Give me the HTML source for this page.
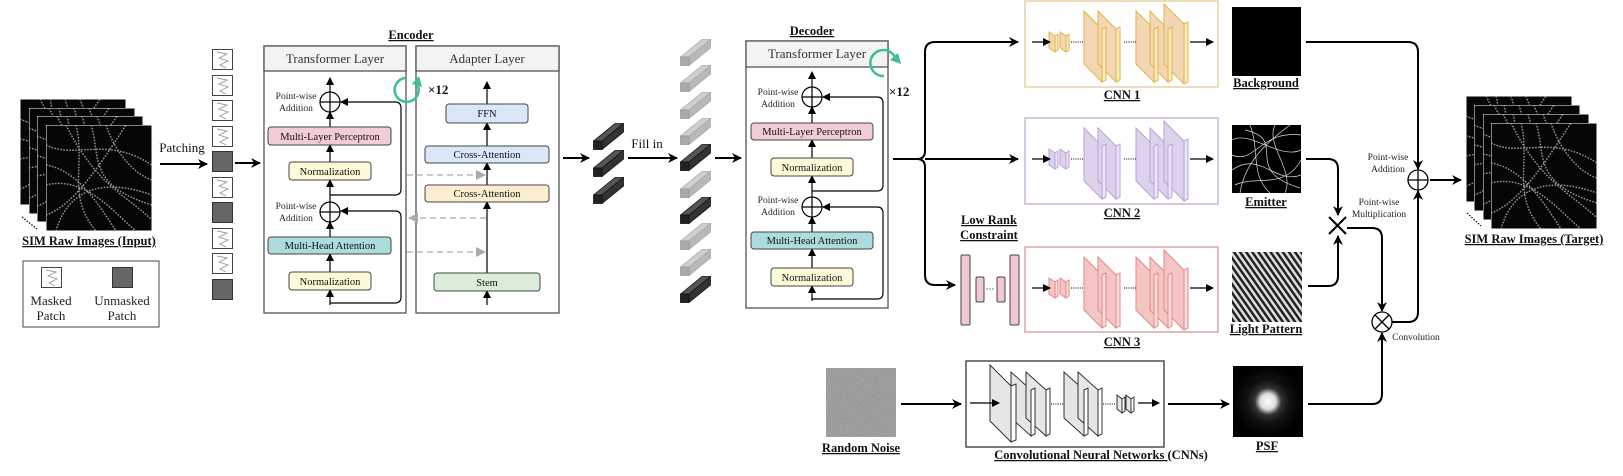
<!DOCTYPE html>
<html><head><meta charset="utf-8"><style>
html,body{margin:0;padding:0;background:#fff;}
svg{display:block;font-family:"Liberation Serif",serif;}
.h{font-size:13px;fill:#333;}
.b{font-size:10.5px;fill:#111;}
.pw{font-size:9.5px;fill:#222;}
.lab{font-size:12.5px;font-weight:bold;text-decoration:underline;fill:#111;}
</style></head><body>
<svg width="1623" height="476" viewBox="0 0 1623 476" xmlns="http://www.w3.org/2000/svg">
<defs>
<marker id="a" markerWidth="10" markerHeight="10" refX="9" refY="5" orient="auto" markerUnits="userSpaceOnUse"><path d="M0,0 L10,5 L0,10 L3,5 z" fill="#000"/></marker>
<marker id="s" markerWidth="8" markerHeight="8" refX="7" refY="4" orient="auto" markerUnits="userSpaceOnUse"><path d="M0,0 L8,4 L0,8 z" fill="#000"/></marker>
<marker id="g" markerWidth="10" markerHeight="10" refX="9" refY="5" orient="auto" markerUnits="userSpaceOnUse"><path d="M0,0 L10,5 L0,10 z" fill="#aaa"/></marker>
<pattern id="st" width="5" height="5" patternUnits="userSpaceOnUse" patternTransform="rotate(-35)"><rect width="5" height="5" fill="#ddd"/><rect width="2.5" height="5" fill="#222"/></pattern>
<radialGradient id="psf"><stop offset="0" stop-color="#fff"/><stop offset="0.22" stop-color="#ddd"/><stop offset="0.38" stop-color="#333"/><stop offset="0.6" stop-color="#111"/><stop offset="1" stop-color="#000"/></radialGradient>
<filter id="nz" x="0" y="0" width="100%" height="100%"><feTurbulence type="fractalNoise" baseFrequency="0.9" numOctaves="1" result="t"/><feColorMatrix type="matrix" values="0.33 0.33 0.33 0 0 0.33 0.33 0.33 0 0 0.33 0.33 0.33 0 0 0 0 0 0 1"/></filter>
<symbol id="sim" viewBox="0 0 106 106">
<rect width="106" height="106" fill="#060606" stroke="#fff" stroke-width="1"/>
<g fill="none" stroke="#9a9a9a" stroke-width="1.4" stroke-dasharray="1.6 1.4">
<path d="M0,20 C30,35 60,10 106,40"/><path d="M10,106 C20,70 50,50 106,70"/><path d="M0,60 C40,50 70,90 90,106"/><path d="M30,0 C40,40 20,70 50,106"/><path d="M60,0 C70,30 90,50 106,55"/><path d="M0,90 C30,80 60,30 80,0"/><path d="M20,0 C50,60 80,70 106,95"/><path d="M0,40 C30,45 50,75 70,106"/><path d="M45,0 C55,30 40,60 106,80"/>
</g></symbol>
<symbol id="bk" viewBox="0 0 31 27"><path d="M0.5,18 L22,0.5 L30.5,0.5 L9,18 z" fill="#555" stroke="#111" stroke-width=".8"/><path d="M9,18 L30.5,0.5 L30.5,9 L9,26.5 z" fill="#333" stroke="#111" stroke-width=".8"/><rect x="0.5" y="18" width="8.5" height="8.5" fill="#222" stroke="#111" stroke-width=".8"/></symbol>
<symbol id="gy" viewBox="0 0 31 27"><path d="M0.5,18 L22,0.5 L30.5,0.5 L9,18 z" fill="#cfcfcf" stroke="#aaa" stroke-width=".8"/><path d="M9,18 L30.5,0.5 L30.5,9 L9,26.5 z" fill="#b8b8b8" stroke="#aaa" stroke-width=".8"/><rect x="0.5" y="18" width="8.5" height="8.5" fill="#aaa" stroke="#999" stroke-width=".8"/></symbol>
<symbol id="mp" viewBox="0 0 21 21"><rect x=".5" y=".5" width="20" height="20" fill="#fff" stroke="#444"/><path d="M5,3 L15,5 L7,9 L16,12 L8,16 L14,19" fill="none" stroke="#999" stroke-width=".9"/></symbol>
<symbol id="up" viewBox="0 0 21 21"><rect x=".5" y=".5" width="20" height="20" fill="#666" stroke="#333"/></symbol>
</defs>

<!-- input stack -->
<use href="#sim" x="20" y="99" width="106" height="106"/>
<use href="#sim" x="29" y="108" width="106" height="106"/>
<use href="#sim" x="37" y="116" width="106" height="106"/>
<use href="#sim" x="46" y="125" width="106" height="106"/>
<path d="M22,217 L37,229" stroke="#000" stroke-width="1.2" stroke-dasharray="1.5 1.5"/>
<text x="89" y="245" class="lab" text-anchor="middle">SIM Raw Images (Input)</text>
<rect x="23" y="261" width="136" height="66" fill="#fff" stroke="#444"/>
<use href="#mp" x="41" y="267" width="21" height="21"/>
<use href="#up" x="112" y="267" width="21" height="21"/>
<text x="51" y="305" class="h" text-anchor="middle" style="fill:#222">Masked</text>
<text x="51" y="320" class="h" text-anchor="middle" style="fill:#222">Patch</text>
<text x="122" y="305" class="h" text-anchor="middle" style="fill:#222">Unmasked</text>
<text x="122" y="320" class="h" text-anchor="middle" style="fill:#222">Patch</text>

<text x="182" y="152" class="h" text-anchor="middle" style="fill:#111">Patching</text>
<line x1="160" y1="164" x2="207" y2="164" stroke="#000" stroke-width="2" marker-end="url(#a)"/>
<use href="#mp" x="212" y="49" width="21" height="21"/>
<use href="#mp" x="212" y="75" width="21" height="21"/>
<use href="#mp" x="212" y="100" width="21" height="21"/>
<use href="#mp" x="212" y="126" width="21" height="21"/>
<use href="#up" x="212" y="151" width="21" height="21"/>
<use href="#mp" x="212" y="177" width="21" height="21"/>
<use href="#up" x="212" y="202" width="21" height="21"/>
<use href="#mp" x="212" y="228" width="21" height="21"/>
<use href="#mp" x="212" y="253" width="21" height="21"/>
<use href="#up" x="212" y="279" width="21" height="21"/>
<line x1="235" y1="163" x2="260" y2="163" stroke="#000" stroke-width="2" marker-end="url(#a)"/>

<!-- Encoder -->
<text x="411" y="39" class="lab" text-anchor="middle">Encoder</text>
<rect x="264" y="46" width="142" height="267" fill="#fff" stroke="#555" stroke-width="1.3"/>
<rect x="264" y="46" width="142" height="25" fill="#f3f3f3" stroke="#555" stroke-width="1.3"/>
<text x="335" y="63" class="h" text-anchor="middle">Transformer Layer</text>
<rect x="416" y="46" width="143" height="267" fill="#fff" stroke="#555" stroke-width="1.3"/>
<rect x="416" y="46" width="143" height="25" fill="#f3f3f3" stroke="#555" stroke-width="1.3"/>
<text x="487" y="63" class="h" text-anchor="middle">Adapter Layer</text>
<g stroke="#000" stroke-width="1.2" fill="none">
<line x1="330" y1="305" x2="330" y2="290" marker-end="url(#s)"/>
<line x1="330" y1="272" x2="330" y2="254" marker-end="url(#s)"/>
<line x1="330" y1="237" x2="330" y2="222" marker-end="url(#s)"/>
<line x1="330" y1="202" x2="330" y2="180" marker-end="url(#s)"/>
<line x1="330" y1="162" x2="330" y2="145" marker-end="url(#s)"/>
<line x1="330" y1="127" x2="330" y2="112" marker-end="url(#s)"/>
<line x1="330" y1="92" x2="330" y2="78" marker-end="url(#s)"/>
<path d="M330,195 H395 Q401,195 401,189 V108 Q401,102 395,102 H341" marker-end="url(#s)"/>
<path d="M330,303 H395 Q401,303 401,297 V217 Q401,211 395,211 H341" marker-end="url(#s)"/>
<circle cx="330" cy="102" r="10" fill="#fff"/><path d="M320,102 H340 M330,92 V112"/>
<circle cx="330" cy="212" r="10" fill="#fff"/><path d="M320,212 H340 M330,202 V222"/>
</g>
<text x="296" y="99" class="pw" text-anchor="middle">Point-wise</text>
<text x="296" y="111" class="pw" text-anchor="middle">Addition</text>
<text x="296" y="209" class="pw" text-anchor="middle">Point-wise</text>
<text x="296" y="221" class="pw" text-anchor="middle">Addition</text>
<rect x="268" y="127" width="123" height="18" rx="3" fill="#f2cdd6" stroke="#444"/>
<text x="330" y="140" class="b" text-anchor="middle">Multi-Layer Perceptron</text>
<rect x="289" y="162" width="82" height="18" rx="3" fill="#fdf9d9" stroke="#444"/>
<text x="330" y="175" class="b" text-anchor="middle">Normalization</text>
<rect x="268" y="237" width="123" height="17" rx="3" fill="#acdcdb" stroke="#444"/>
<text x="330" y="249" class="b" text-anchor="middle">Multi-Head Attention</text>
<rect x="289" y="272" width="82" height="18" rx="3" fill="#fdf9d9" stroke="#444"/>
<text x="330" y="285" class="b" text-anchor="middle">Normalization</text>
<!-- adapter -->
<g stroke="#000" stroke-width="1.2" fill="none">
<line x1="487" y1="305" x2="487" y2="291" marker-end="url(#s)"/>
<line x1="487" y1="273" x2="487" y2="202" marker-end="url(#s)"/>
<line x1="487" y1="185" x2="487" y2="163" marker-end="url(#s)"/>
<line x1="487" y1="146" x2="487" y2="123" marker-end="url(#s)"/>
<line x1="487" y1="104" x2="487" y2="82" marker-end="url(#s)"/>
</g>
<rect x="446" y="104" width="82" height="19" rx="3" fill="#d9e7f9" stroke="#444"/>
<text x="487" y="117" class="b" text-anchor="middle">FFN</text>
<rect x="425" y="146" width="124" height="17" rx="3" fill="#d9e7f9" stroke="#444"/>
<text x="487" y="158" class="b" text-anchor="middle">Cross-Attention</text>
<rect x="425" y="185" width="124" height="17" rx="3" fill="#fcefcf" stroke="#444"/>
<text x="487" y="197" class="b" text-anchor="middle">Cross-Attention</text>
<rect x="434" y="273" width="106" height="18" rx="3" fill="#d9edd9" stroke="#444"/>
<text x="487" y="286" class="b" text-anchor="middle">Stem</text>
<g stroke="#aaa" stroke-width="1.2" stroke-dasharray="6 4" fill="none">
<line x1="407" y1="175" x2="485" y2="175" marker-end="url(#g)"/>
<line x1="486" y1="218" x2="409" y2="218" marker-end="url(#g)"/>
<line x1="407" y1="252" x2="485" y2="252" marker-end="url(#g)"/>
</g>
<path d="M418,86 A12,12 0 1 1 405,78" fill="none" stroke="#3cc08c" stroke-width="2.5"/>
<path d="M412,84 L419,76 L422,87 z" fill="#3cc08c"/>
<text x="428" y="94" style="font-size:13px;font-weight:bold;fill:#111">×12</text>

<!-- to bars -->
<line x1="563" y1="158" x2="589" y2="158" stroke="#000" stroke-width="2" marker-end="url(#a)"/>
<use href="#bk" x="593" y="123" width="31" height="27"/>
<use href="#bk" x="593" y="150" width="31" height="27"/>
<use href="#bk" x="593" y="177" width="31" height="27"/>
<text x="647" y="148" class="h" text-anchor="middle" style="fill:#111">Fill in</text>
<line x1="628" y1="158" x2="677" y2="158" stroke="#000" stroke-width="2" marker-end="url(#a)"/>
<use href="#gy" x="680" y="39" width="31" height="27"/>
<use href="#gy" x="680" y="65" width="31" height="27"/>
<use href="#gy" x="680" y="92" width="31" height="27"/>
<use href="#gy" x="680" y="118" width="31" height="27"/>
<use href="#bk" x="680" y="144" width="31" height="27"/>
<use href="#gy" x="680" y="171" width="31" height="27"/>
<use href="#bk" x="680" y="197" width="31" height="27"/>
<use href="#gy" x="680" y="223" width="31" height="27"/>
<use href="#gy" x="680" y="249" width="31" height="27"/>
<use href="#bk" x="680" y="276" width="31" height="27"/>
<line x1="715" y1="158" x2="741" y2="158" stroke="#000" stroke-width="2" marker-end="url(#a)"/>

<!-- Decoder -->
<text x="812" y="35" class="lab" text-anchor="middle">Decoder</text>
<rect x="746" y="41" width="142" height="267" fill="#fff" stroke="#555" stroke-width="1.3"/>
<rect x="746" y="41" width="142" height="26" fill="#f3f3f3" stroke="#555" stroke-width="1.3"/>
<text x="817" y="58" class="h" text-anchor="middle">Transformer Layer</text>
<g stroke="#000" stroke-width="1.2" fill="none">
<line x1="812" y1="301" x2="812" y2="286" marker-end="url(#s)"/>
<line x1="812" y1="268" x2="812" y2="249" marker-end="url(#s)"/>
<line x1="812" y1="232" x2="812" y2="217" marker-end="url(#s)"/>
<line x1="812" y1="197" x2="812" y2="176" marker-end="url(#s)"/>
<line x1="812" y1="158" x2="812" y2="140" marker-end="url(#s)"/>
<line x1="812" y1="123" x2="812" y2="107" marker-end="url(#s)"/>
<line x1="812" y1="87" x2="812" y2="72" marker-end="url(#s)"/>
<path d="M812,191 H877 Q883,191 883,185 V103 Q883,97 877,97 H823" marker-end="url(#s)"/>
<path d="M812,299 H877 Q883,299 883,293 V213 Q883,207 877,207 H823" marker-end="url(#s)"/>
<circle cx="812" cy="97" r="10" fill="#fff"/><path d="M802,97 H822 M812,87 V107"/>
<circle cx="812" cy="207" r="10" fill="#fff"/><path d="M802,207 H822 M812,197 V217"/>
</g>
<text x="778" y="95" class="pw" text-anchor="middle">Point-wise</text>
<text x="778" y="107" class="pw" text-anchor="middle">Addition</text>
<text x="778" y="203" class="pw" text-anchor="middle">Point-wise</text>
<text x="778" y="215" class="pw" text-anchor="middle">Addition</text>
<rect x="751" y="123" width="122" height="17" rx="3" fill="#f2cdd6" stroke="#444"/>
<text x="812" y="135" class="b" text-anchor="middle">Multi-Layer Perceptron</text>
<rect x="771" y="158" width="82" height="18" rx="3" fill="#fdf9d9" stroke="#444"/>
<text x="812" y="171" class="b" text-anchor="middle">Normalization</text>
<rect x="751" y="232" width="122" height="17" rx="3" fill="#acdcdb" stroke="#444"/>
<text x="812" y="244" class="b" text-anchor="middle">Multi-Head Attention</text>
<rect x="771" y="268" width="82" height="18" rx="3" fill="#fdf9d9" stroke="#444"/>
<text x="812" y="281" class="b" text-anchor="middle">Normalization</text>
<path d="M884,76 A13,13 0 1 1 896,60" fill="none" stroke="#3cc08c" stroke-width="2.5"/>
<path d="M890,60 L898,53 L901,64 z" fill="#3cc08c"/>
<text x="889" y="96" style="font-size:13px;font-weight:bold;fill:#111">×12</text>

<!-- brace -->
<g stroke="#000" stroke-width="2" fill="none">
<path d="M893,159 H917 Q925,159 925,151 V52 Q925,42 935,42 H1018" marker-end="url(#a)"/>
<path d="M917,159 Q925,159 925,167 V275 Q925,285 935,285 H955" marker-end="url(#a)"/>
<path d="M925,159 H1018" marker-end="url(#a)"/>
</g>
<text x="989" y="224" class="lab" text-anchor="middle">Low Rank</text>
<text x="989" y="239" class="lab" text-anchor="middle">Constraint</text>
<g fill="#efc8d2" stroke="#444" stroke-width="1">
<rect x="961" y="255" width="9" height="70" rx="1.5"/>
<rect x="976" y="277" width="8" height="25" rx="1.5"/>
<rect x="997" y="277" width="8" height="25" rx="1.5"/>
<rect x="1010" y="255" width="9" height="70" rx="1.5"/>
</g>
<text x="990" y="292" style="font-size:9px" text-anchor="middle">···</text>

<!-- CNN boxes -->
<rect x="1025" y="1" width="193" height="86" fill="#fff" stroke="#e5d3a3" stroke-width="1.5"/>
<rect x="1025" y="118" width="193" height="86" fill="#fff" stroke="#c7b6d6" stroke-width="1.5"/>
<rect x="1025" y="247" width="193" height="85" fill="#fff" stroke="#d9a6a6" stroke-width="1.5"/>
<g id="c1" stroke-width="1">
</g>
<!-- CNN1 plates -->
<g stroke="#e4b24d" stroke-width="1">
<g fill="#f3d7b4"><path d="M1049,32 L1055,36 L1055,52 L1049,48 z"/><path d="M1060,32 L1066,36 L1066,52 L1060,48 z"/><path d="M1084,11 L1102,29 L1102,82 L1084,64 z"/><path d="M1098,11 L1116,29 L1116,82 L1098,64 z"/><path d="M1136,11 L1154,29 L1154,82 L1136,64 z"/><path d="M1150,11 L1168,29 L1168,82 L1150,64 z"/><path d="M1164,4 L1184,24 L1184,84 L1164,64 z"/></g>
<g fill="#fcebb8"><path d="M1055,36 L1058,34 L1058,50 L1055,52 z"/><path d="M1066,36 L1069,34 L1069,50 L1066,52 z"/><path d="M1102,29 L1106,27 L1106,80 L1102,82 z"/><path d="M1116,29 L1120,27 L1120,80 L1116,82 z"/><path d="M1154,29 L1158,27 L1158,80 L1154,82 z"/><path d="M1168,29 L1172,27 L1172,80 L1168,82 z"/><path d="M1184,24 L1188,22 L1188,82 L1184,84 z"/></g>
</g>
<!-- CNN2 -->
<g stroke="#b9a3d6" stroke-width="1" transform="translate(0,117)">
<g fill="#ddd2ec"><path d="M1049,32 L1055,36 L1055,52 L1049,48 z"/><path d="M1060,32 L1066,36 L1066,52 L1060,48 z"/><path d="M1084,11 L1102,29 L1102,82 L1084,64 z"/><path d="M1098,11 L1116,29 L1116,82 L1098,64 z"/><path d="M1136,11 L1154,29 L1154,82 L1136,64 z"/><path d="M1150,11 L1168,29 L1168,82 L1150,64 z"/><path d="M1164,4 L1184,24 L1184,84 L1164,64 z"/></g>
<g fill="#ece4f7"><path d="M1055,36 L1058,34 L1058,50 L1055,52 z"/><path d="M1066,36 L1069,34 L1069,50 L1066,52 z"/><path d="M1102,29 L1106,27 L1106,80 L1102,82 z"/><path d="M1116,29 L1120,27 L1120,80 L1116,82 z"/><path d="M1154,29 L1158,27 L1158,80 L1154,82 z"/><path d="M1168,29 L1172,27 L1172,80 L1168,82 z"/><path d="M1184,24 L1188,22 L1188,82 L1184,84 z"/></g>
</g>
<!-- CNN3 -->
<g stroke="#e08a8a" stroke-width="1" transform="translate(0,246)">
<g fill="#f4c5c2"><path d="M1049,32 L1055,36 L1055,52 L1049,48 z"/><path d="M1060,32 L1066,36 L1066,52 L1060,48 z"/><path d="M1084,11 L1102,29 L1102,82 L1084,64 z"/><path d="M1098,11 L1116,29 L1116,82 L1098,64 z"/><path d="M1136,11 L1154,29 L1154,82 L1136,64 z"/><path d="M1150,11 L1168,29 L1168,82 L1150,64 z"/><path d="M1164,4 L1184,24 L1184,84 L1164,64 z"/></g>
<g fill="#fbdedb"><path d="M1055,36 L1058,34 L1058,50 L1055,52 z"/><path d="M1066,36 L1069,34 L1069,50 L1066,52 z"/><path d="M1102,29 L1106,27 L1106,80 L1102,82 z"/><path d="M1116,29 L1120,27 L1120,80 L1116,82 z"/><path d="M1154,29 L1158,27 L1158,80 L1154,82 z"/><path d="M1168,29 L1172,27 L1172,80 L1168,82 z"/><path d="M1184,24 L1188,22 L1188,82 L1184,84 z"/></g>
</g>
<g stroke="#000" stroke-width="1.2" fill="none">
<line x1="1032" y1="42" x2="1050" y2="42" marker-end="url(#s)"/><line x1="1190" y1="42" x2="1213" y2="42" marker-end="url(#s)"/>
<line x1="1032" y1="159" x2="1050" y2="159" marker-end="url(#s)"/><line x1="1190" y1="159" x2="1213" y2="159" marker-end="url(#s)"/>
<line x1="1032" y1="288" x2="1050" y2="288" marker-end="url(#s)"/><line x1="1190" y1="288" x2="1213" y2="288" marker-end="url(#s)"/>
</g>
<g stroke="#000" stroke-width="1" stroke-dasharray="1 1.2">
<line x1="1071" y1="42" x2="1084" y2="42"/><line x1="1124" y1="42" x2="1136" y2="42"/>
<line x1="1071" y1="159" x2="1084" y2="159"/><line x1="1124" y1="159" x2="1136" y2="159"/>
<line x1="1071" y1="288" x2="1084" y2="288"/><line x1="1124" y1="288" x2="1136" y2="288"/>
</g>
<text x="1122" y="99" class="lab" text-anchor="middle">CNN 1</text>
<text x="1122" y="217" class="lab" text-anchor="middle">CNN 2</text>
<text x="1122" y="346" class="lab" text-anchor="middle">CNN 3</text>

<!-- outputs -->
<rect x="1232" y="7" width="69" height="69" fill="#000"/>
<text x="1266" y="87" class="lab" text-anchor="middle">Background</text>
<rect x="1232" y="125" width="69" height="68" fill="#000"/>
<g fill="none" stroke="#ddd" stroke-width=".7">
<path d="M1232,140 C1250,130 1280,160 1301,150"/><path d="M1240,193 C1245,160 1270,140 1290,125"/><path d="M1232,170 C1260,150 1275,185 1301,175"/><path d="M1250,125 C1260,150 1250,175 1270,193"/><path d="M1235,185 C1255,175 1285,190 1301,160"/><path d="M1275,125 C1265,145 1295,170 1285,193"/><path d="M1232,155 C1255,165 1260,130 1301,135"/><path d="M1245,130 C1290,140 1240,170 1300,188"/>
</g>
<text x="1266" y="206" class="lab" text-anchor="middle">Emitter</text>
<rect x="1232" y="252" width="70" height="70" fill="url(#st)"/>
<text x="1266" y="333" class="lab" text-anchor="middle">Light Pattern</text>
<rect x="1233" y="366" width="70" height="71" fill="url(#psf)"/>
<text x="1267" y="450" class="lab" text-anchor="middle">PSF</text>

<!-- bottom row -->
<rect x="826" y="368" width="70" height="69" fill="#808080"/>
<rect x="826" y="368" width="70" height="69" filter="url(#nz)" opacity=".5"/>
<text x="861" y="452" class="lab" text-anchor="middle">Random Noise</text>
<line x1="901" y1="404" x2="961" y2="404" stroke="#000" stroke-width="2" marker-end="url(#a)"/>
<rect x="966" y="361" width="198" height="86" fill="#fff" stroke="#222" stroke-width="1.2"/>
<g stroke="#333" stroke-width="1">
<g fill="#e6e6e6"><path d="M990,365 L1011,386 L1011,442 L990,421 z"/><path d="M1011,372 L1031,390 L1031,436 L1011,418 z"/><path d="M1026,372 L1046,390 L1046,436 L1026,418 z"/><path d="M1064,372 L1084,390 L1084,436 L1064,418 z"/><path d="M1078,372 L1098,390 L1098,436 L1078,418 z"/><path d="M1117,395 L1122,399 L1122,413 L1117,409 z"/><path d="M1126,395 L1131,399 L1131,413 L1126,409 z"/></g>
<g fill="#fff"><path d="M1011,386 L1016,384 L1016,440 L1011,442 z"/><path d="M1031,390 L1035,388 L1035,434 L1031,436 z"/><path d="M1046,390 L1050,388 L1050,434 L1046,436 z"/><path d="M1084,390 L1088,388 L1088,434 L1084,436 z"/><path d="M1098,390 L1102,388 L1102,434 L1098,436 z"/><path d="M1122,399 L1125,397 L1125,411 L1122,413 z"/><path d="M1131,399 L1134,397 L1134,411 L1131,413 z"/></g>
</g>
<line x1="970" y1="403" x2="999" y2="403" stroke="#000" stroke-width="1.2" marker-end="url(#s)"/>
<line x1="1138" y1="403" x2="1159" y2="403" stroke="#000" stroke-width="1.2" marker-end="url(#s)"/>
<g stroke="#000" stroke-width="1" stroke-dasharray="1 1.2"><line x1="1051" y1="404" x2="1063" y2="404"/><line x1="1103" y1="404" x2="1116" y2="404"/></g>
<text x="1101" y="459" style="font-size:12.5px;font-weight:bold;fill:#111" text-anchor="middle"><tspan style="text-decoration:underline">Convolutional Neural Networks </tspan>(CNNs)</text>
<line x1="1168" y1="404" x2="1229" y2="404" stroke="#000" stroke-width="2" marker-end="url(#a)"/>

<!-- right connectors -->
<g stroke="#000" stroke-width="2" fill="none">
<path d="M1306,42 H1408 Q1418,42 1418,52 V169" marker-end="url(#a)"/>
<path d="M1430,180 H1461" marker-end="url(#a)"/>
<path d="M1306,159 H1328 Q1338,159 1338,169 V215" marker-end="url(#a)"/>
<path d="M1308,286 H1328 Q1338,286 1338,276 V236" marker-end="url(#a)"/>
<path d="M1347,228 H1372 Q1382,228 1382,238 V311" marker-end="url(#a)"/>
<path d="M1308,404 H1372 Q1382,404 1382,394 V333" marker-end="url(#a)"/>
<path d="M1392,322 H1408 Q1418,322 1418,312 V191" marker-end="url(#a)"/>
</g>
<g stroke="#000" stroke-width="1.3" fill="#fff">
<circle cx="1418" cy="180" r="10"/><path d="M1408,180 H1428 M1418,170 V190" fill="none"/>
<circle cx="1382" cy="322" r="10"/><path d="M1375,315 L1389,329 M1389,315 L1375,329" fill="none"/>
</g>
<path d="M1329,217 L1346,234 M1346,217 L1329,234" stroke="#000" stroke-width="2"/>
<text x="1388" y="160" class="pw" text-anchor="middle">Point-wise</text>
<text x="1388" y="172" class="pw" text-anchor="middle">Addition</text>
<text x="1379" y="205" class="pw" text-anchor="middle">Point-wise</text>
<text x="1379" y="217" class="pw" text-anchor="middle">Multiplication</text>
<text x="1416" y="340" class="pw" text-anchor="middle">Convolution</text>

<!-- target stack -->
<use href="#sim" x="1466" y="96" width="106" height="106"/>
<use href="#sim" x="1474" y="105" width="106" height="106"/>
<use href="#sim" x="1483" y="114" width="106" height="106"/>
<use href="#sim" x="1491" y="123" width="106" height="106"/>
<path d="M1467,213 L1481,226" stroke="#000" stroke-width="1.2" stroke-dasharray="1.5 1.5"/>
<text x="1534" y="243" class="lab" text-anchor="middle">SIM Raw Images (Target)</text>
</svg>
</body></html>
